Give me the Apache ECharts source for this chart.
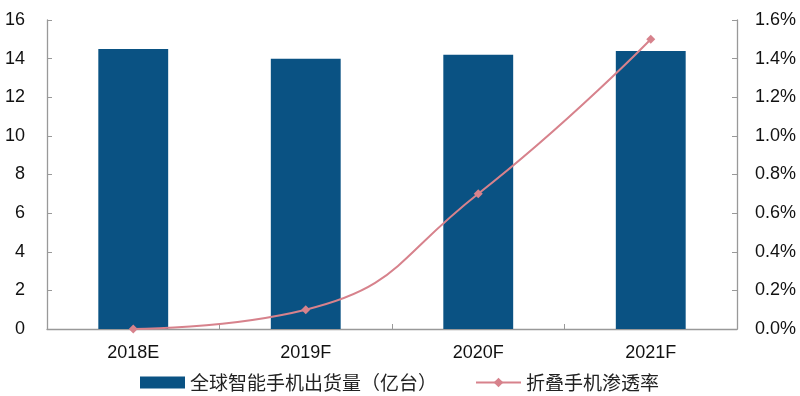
<!DOCTYPE html>
<html><head><meta charset="utf-8">
<script src="https://cdn.jsdelivr.net/npm/echarts@6/dist/echarts.min.js"></script>
<style>html,body{margin:0;padding:0;background:#fff}#c{width:800px;height:396px}</style>
</head><body><div id="c"></div>
<script>
const categories = ['2018E', '2019F', '2020F', '2021F'];
const shipments = [14.5, 14.0, 14.2, 14.4];
const foldRate = [0.0, 0.1, 0.7, 1.5];
const leftTicks = {min: 0, max: 16, interval: 2};
const rightTicks = {min: 0, max: 1.6, interval: 0.2};

const font = '"Liberation Sans", Arial, "Noto Sans CJK SC", sans-serif';
const axisColor = '#999999';
const chart = echarts.init(document.getElementById('c'));
chart.setOption({
  animation: false,
  textStyle: {fontFamily: font},
  grid: {left: 47, right: 63, top: 20, bottom: 67, containLabel: false},
  legend: {
    top: 368, left: 135, itemGap: 38, itemWidth: 45, itemHeight: 12,
    textStyle: {fontSize: 19, color: '#222', fontFamily: '"Noto Sans CJK SC", sans-serif'},
    data: [
      {name: '全球智能手机出货量（亿台）', icon: 'rect'},
      {name: '折叠手机渗透率'}
    ]
  },
  xAxis: {
    type: 'category', data: categories, boundaryGap: true,
    axisLine: {lineStyle: {color: axisColor, width: 1.3}},
    axisTick: {show: true, inside: true, length: 5, alignWithLabel: false, lineStyle: {color: axisColor}},
    axisLabel: {fontSize: 18, color: '#111', margin: 15}
  },
  yAxis: [
    {type: 'value', min: leftTicks.min, max: leftTicks.max, interval: leftTicks.interval,
     splitLine: {show: false},
     axisLine: {show: true, lineStyle: {color: axisColor, width: 1.3}},
     axisTick: {show: true, inside: true, length: 5, lineStyle: {color: axisColor}},
     axisLabel: {fontSize: 18, color: '#111', margin: 22}},
    {type: 'value', min: rightTicks.min, max: rightTicks.max, interval: rightTicks.interval,
     position: 'right', splitLine: {show: false},
     axisLine: {show: true, lineStyle: {color: axisColor, width: 1.3}},
     axisTick: {show: true, inside: true, length: 5, lineStyle: {color: axisColor}},
     axisLabel: {fontSize: 18, color: '#111', margin: 18, formatter: v => v.toFixed(1) + '%'}}
  ],
  series: [
    {name: '全球智能手机出货量（亿台）', type: 'bar', data: shipments, barWidth: '40.5%',
     itemStyle: {color: '#0a5283'}},
    {name: '折叠手机渗透率', type: 'line', yAxisIndex: 1, data: foldRate, smooth: 0.5,
     symbol: 'diamond', symbolSize: 9,
     lineStyle: {color: '#d7828c', width: 2}, itemStyle: {color: '#d7828c'}}
  ]
});
</script></body></html>
